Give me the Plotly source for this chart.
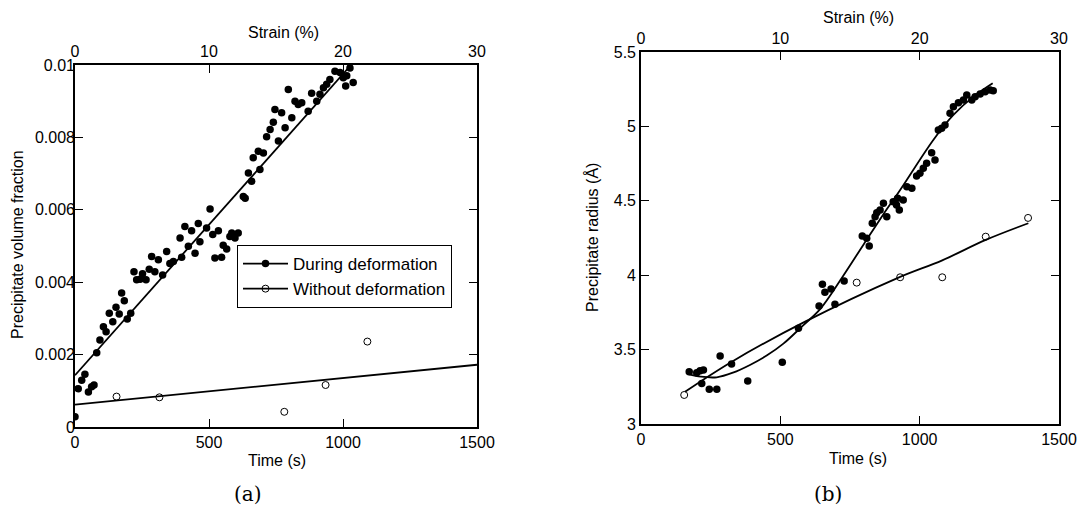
import plotly.graph_objects as go

# ---------------- Panel (a): precipitate volume fraction ----------------
time_a_during = [0, 12, 25, 37, 50, 62, 71, 81, 93, 106, 116, 128, 141, 153, 165, 174, 184, 195, 208,
                 220, 230, 243, 252, 265, 277, 286, 298, 311, 327, 342, 354, 367, 392, 398, 410, 423,
                 435, 448, 460, 466, 491, 504, 514, 522, 535, 547, 553, 566, 578, 585, 597, 609, 628,
                 635, 647, 659, 665, 684, 690, 703, 715, 728, 740, 746, 759, 771, 784, 796, 809, 821,
                 833, 846, 870, 883, 902, 914, 927, 939, 951, 970, 989, 1001, 1010, 1014, 1026, 1038]
vf_a_during = [0.00028, 0.00106, 0.00129, 0.00146, 0.00097, 0.00111, 0.00116, 0.00205, 0.00240, 0.00277,
               0.00263, 0.00314, 0.00291, 0.00331, 0.00312, 0.00370, 0.00349, 0.00298, 0.00314,
               0.00429, 0.00407, 0.00408, 0.00423, 0.00407, 0.00436, 0.00471, 0.00429, 0.00462,
               0.00420, 0.00485, 0.00452, 0.00457, 0.00522, 0.00469, 0.00554, 0.00499,
               0.00542, 0.00480, 0.00562, 0.00512, 0.00550, 0.00602, 0.00532, 0.00467, 0.00542,
               0.00469, 0.00502, 0.00492, 0.00526, 0.00536, 0.00522, 0.00536, 0.00637,
               0.00632, 0.00702, 0.00679, 0.00744, 0.00762, 0.00711, 0.00757, 0.00802, 0.00822,
               0.00842, 0.00877, 0.00790, 0.00868, 0.00827, 0.00932, 0.00854, 0.00900,
               0.00891, 0.00896, 0.00872, 0.00922, 0.00900, 0.00919, 0.00937, 0.00947, 0.00960,
               0.00983, 0.00979, 0.00965, 0.00942, 0.00970, 0.00992, 0.00952]
fit_a_during_t = [0, 1030]
fit_a_during_vf = [0.00143, 0.0100]

time_a_without = [155, 315, 781, 935, 1091]
vf_a_without = [0.00084, 0.00082, 0.00042, 0.00116, 0.00236]
fit_a_without_t = [0, 1500]
fit_a_without_vf = [0.00062, 0.00172]

# ---------------- Panel (b): precipitate radius ----------------
time_b_during = [173, 200, 212, 224, 218, 245, 272, 284, 325, 383, 507, 565, 639, 651, 660, 682, 696,
                 729, 794, 810, 819, 830, 840, 846, 858, 870, 882, 905, 917, 921, 927, 941, 954, 972,
                 989, 1001, 1013, 1025, 1043, 1055, 1067, 1079, 1091, 1109, 1121, 1139, 1157, 1169,
                 1187, 1199, 1217, 1235, 1253, 1264]
r_b_during = [3.351, 3.345, 3.358, 3.363, 3.273, 3.233, 3.233, 3.457, 3.403, 3.289, 3.415, 3.643,
              3.793, 3.939, 3.885, 3.907, 3.804, 3.961, 4.263, 4.248, 4.196, 4.349, 4.393, 4.420,
              4.438, 4.483, 4.393, 4.494, 4.472, 4.517, 4.438, 4.505, 4.595, 4.584, 4.667, 4.685,
              4.718, 4.752, 4.823, 4.774, 4.976, 4.987, 5.010, 5.088, 5.132, 5.159, 5.177, 5.211,
              5.177, 5.200, 5.218, 5.233, 5.245, 5.240]
fit_b_during_t = [170, 215, 272, 330, 391, 451, 511, 583, 642, 720, 800, 870, 930, 1049, 1121, 1193, 1262]
fit_b_during_r = [3.335, 3.318, 3.314, 3.345, 3.397, 3.460, 3.540, 3.665, 3.770, 3.980, 4.210, 4.410,
                  4.573, 4.909, 5.077, 5.200, 5.290]

time_b_without = [155, 774, 930, 1081, 1237, 1389]
r_b_without = [3.195, 3.950, 3.986, 3.986, 4.259, 4.385]
fit_b_without_t = [158, 326, 589, 918, 1081, 1237, 1390]
fit_b_without_r = [3.217, 3.419, 3.688, 3.979, 4.100, 4.237, 4.349]

time_ticks = [0, 500, 1000, 1500]
strain_ticks = [0, 10, 20, 30]
vf_ticks = [0, 0.002, 0.004, 0.006, 0.008, 0.01]
vf_ticktext = ["0", "0.002", "0.004", "0.006", "0.008", "0.01"]
r_ticks = [3, 3.5, 4, 4.5, 5, 5.5]
r_ticktext = ["3", "3.5", "4", "4.5", "5", "5.5"]

FONT = "Liberation Sans, Arial, sans-serif"
W, H = 1084, 516

fig = go.Figure()

filled = dict(symbol="circle", size=7.5, color="black", line=dict(width=0))
opened = dict(symbol="circle-open", size=7, color="black", line=dict(width=1))
fitline = dict(color="black", width=1.8)

# panel a
fig.add_trace(go.Scatter(x=fit_a_during_t, y=fit_a_during_vf, mode="lines", line=fitline,
                         xaxis="x", yaxis="y", showlegend=False, hoverinfo="skip"))
fig.add_trace(go.Scatter(x=fit_a_without_t, y=fit_a_without_vf, mode="lines", line=fitline,
                         xaxis="x", yaxis="y", showlegend=False, hoverinfo="skip"))
fig.add_trace(go.Scatter(x=time_a_during, y=vf_a_during, mode="markers", marker=filled,
                         xaxis="x", yaxis="y", showlegend=False, name="During deformation"))
fig.add_trace(go.Scatter(x=time_a_without, y=vf_a_without, mode="markers", marker=opened,
                         xaxis="x", yaxis="y", showlegend=False, name="Without deformation"))
# legend entries
fig.add_trace(go.Scatter(x=[None], y=[None], mode="lines+markers", marker=filled, line=fitline,
                         xaxis="x", yaxis="y", name="During deformation"))
fig.add_trace(go.Scatter(x=[None], y=[None], mode="lines+markers", marker=opened, line=fitline,
                         xaxis="x", yaxis="y", name="Without deformation"))

# panel b
fig.add_trace(go.Scatter(x=fit_b_during_t, y=fit_b_during_r, mode="lines", line=dict(fitline, shape="spline"),
                         xaxis="x3", yaxis="y2", showlegend=False, hoverinfo="skip"))
fig.add_trace(go.Scatter(x=fit_b_without_t, y=fit_b_without_r, mode="lines", line=dict(fitline, shape="spline"),
                         xaxis="x3", yaxis="y2", showlegend=False, hoverinfo="skip"))
fig.add_trace(go.Scatter(x=time_b_during, y=r_b_during, mode="markers", marker=filled,
                         xaxis="x3", yaxis="y2", showlegend=False, name="During deformation"))
fig.add_trace(go.Scatter(x=time_b_without, y=r_b_without, mode="markers", marker=opened,
                         xaxis="x3", yaxis="y2", showlegend=False, name="Without deformation"))
# strain axes need a trace to be drawn
fig.add_trace(go.Scatter(x=[0, 30], y=[None, None], xaxis="x2", yaxis="y", showlegend=False,
                         mode="lines", hoverinfo="skip"))
fig.add_trace(go.Scatter(x=[0, 30], y=[None, None], xaxis="x4", yaxis="y2", showlegend=False,
                         mode="lines", hoverinfo="skip"))

# domains (pixel based)
ax_a = [75 / W, 477 / W]
ay_a = [1 - 427 / H, 1 - 65 / H]
ax_b = [641 / W, 1059 / W]
ay_b = [1 - 424 / H, 1 - 52 / H]

tickfont = dict(family=FONT, size=16, color="black")
common = dict(showgrid=False, zeroline=False, showline=True, linecolor="black", linewidth=1.6,
              ticks="inside", ticklen=8, tickwidth=1.4, tickcolor="black", tickfont=tickfont,
              automargin=False)


def ann(text, px, py, angle=0, size=16, family=FONT):
    return dict(text=text, x=px / W, y=1 - py / H, xref="paper", yref="paper", showarrow=False,
                xanchor="center", yanchor="middle", textangle=angle,
                font=dict(family=family, size=size, color="black"))


fig.update_layout(
    width=W, height=H,
    margin=dict(l=0, r=0, t=0, b=0),
    paper_bgcolor="white", plot_bgcolor="white",
    font=dict(family=FONT, size=16, color="black"),
    xaxis=dict(common, domain=ax_a, anchor="y", range=[0, 1500], tickvals=time_ticks, mirror=True),
    xaxis2=dict(common, domain=ax_a, anchor="y", overlaying="x", side="top", range=[0, 30],
                tickvals=strain_ticks),
    yaxis=dict(common, domain=ay_a, anchor="x", range=[0, 0.01], tickvals=vf_ticks, ticktext=vf_ticktext,
               mirror="ticks", ticklabelstandoff=-5),
    xaxis3=dict(common, domain=ax_b, anchor="y2", range=[0, 1500], tickvals=time_ticks, mirror=True),
    xaxis4=dict(common, domain=ax_b, anchor="y2", overlaying="x3", side="top", range=[0, 30],
                tickvals=strain_ticks),
    yaxis2=dict(common, domain=ay_b, anchor="x3", range=[3, 5.5], tickvals=r_ticks, ticktext=r_ticktext,
                mirror="ticks"),
    legend=dict(x=237 / W, y=1 - 245 / H, xanchor="left", yanchor="top", bgcolor="white",
                bordercolor="black", borderwidth=1, font=dict(family=FONT, size=17, color="black"),
                tracegroupgap=0, itemwidth=45),
    annotations=[
        ann("Strain (%)", 283, 32),
        ann("Time (s)", 277, 460),
        ann("Precipitate volume fraction", 18, 245, angle=-90),
        ann("Strain (%)", 858, 18),
        ann("Time (s)", 858, 458),
        ann("Precipitate radius (Å)", 592, 238, angle=-90),
        ann("(a)", 248, 494, size=20, family="DejaVu Serif, serif"),
        ann("(b)", 828, 494, size=20, family="DejaVu Serif, serif"),
    ],
)

fig.write_html("out.html", config={"displayModeBar": False},
               post_script="document.body.style.margin='0px';")
